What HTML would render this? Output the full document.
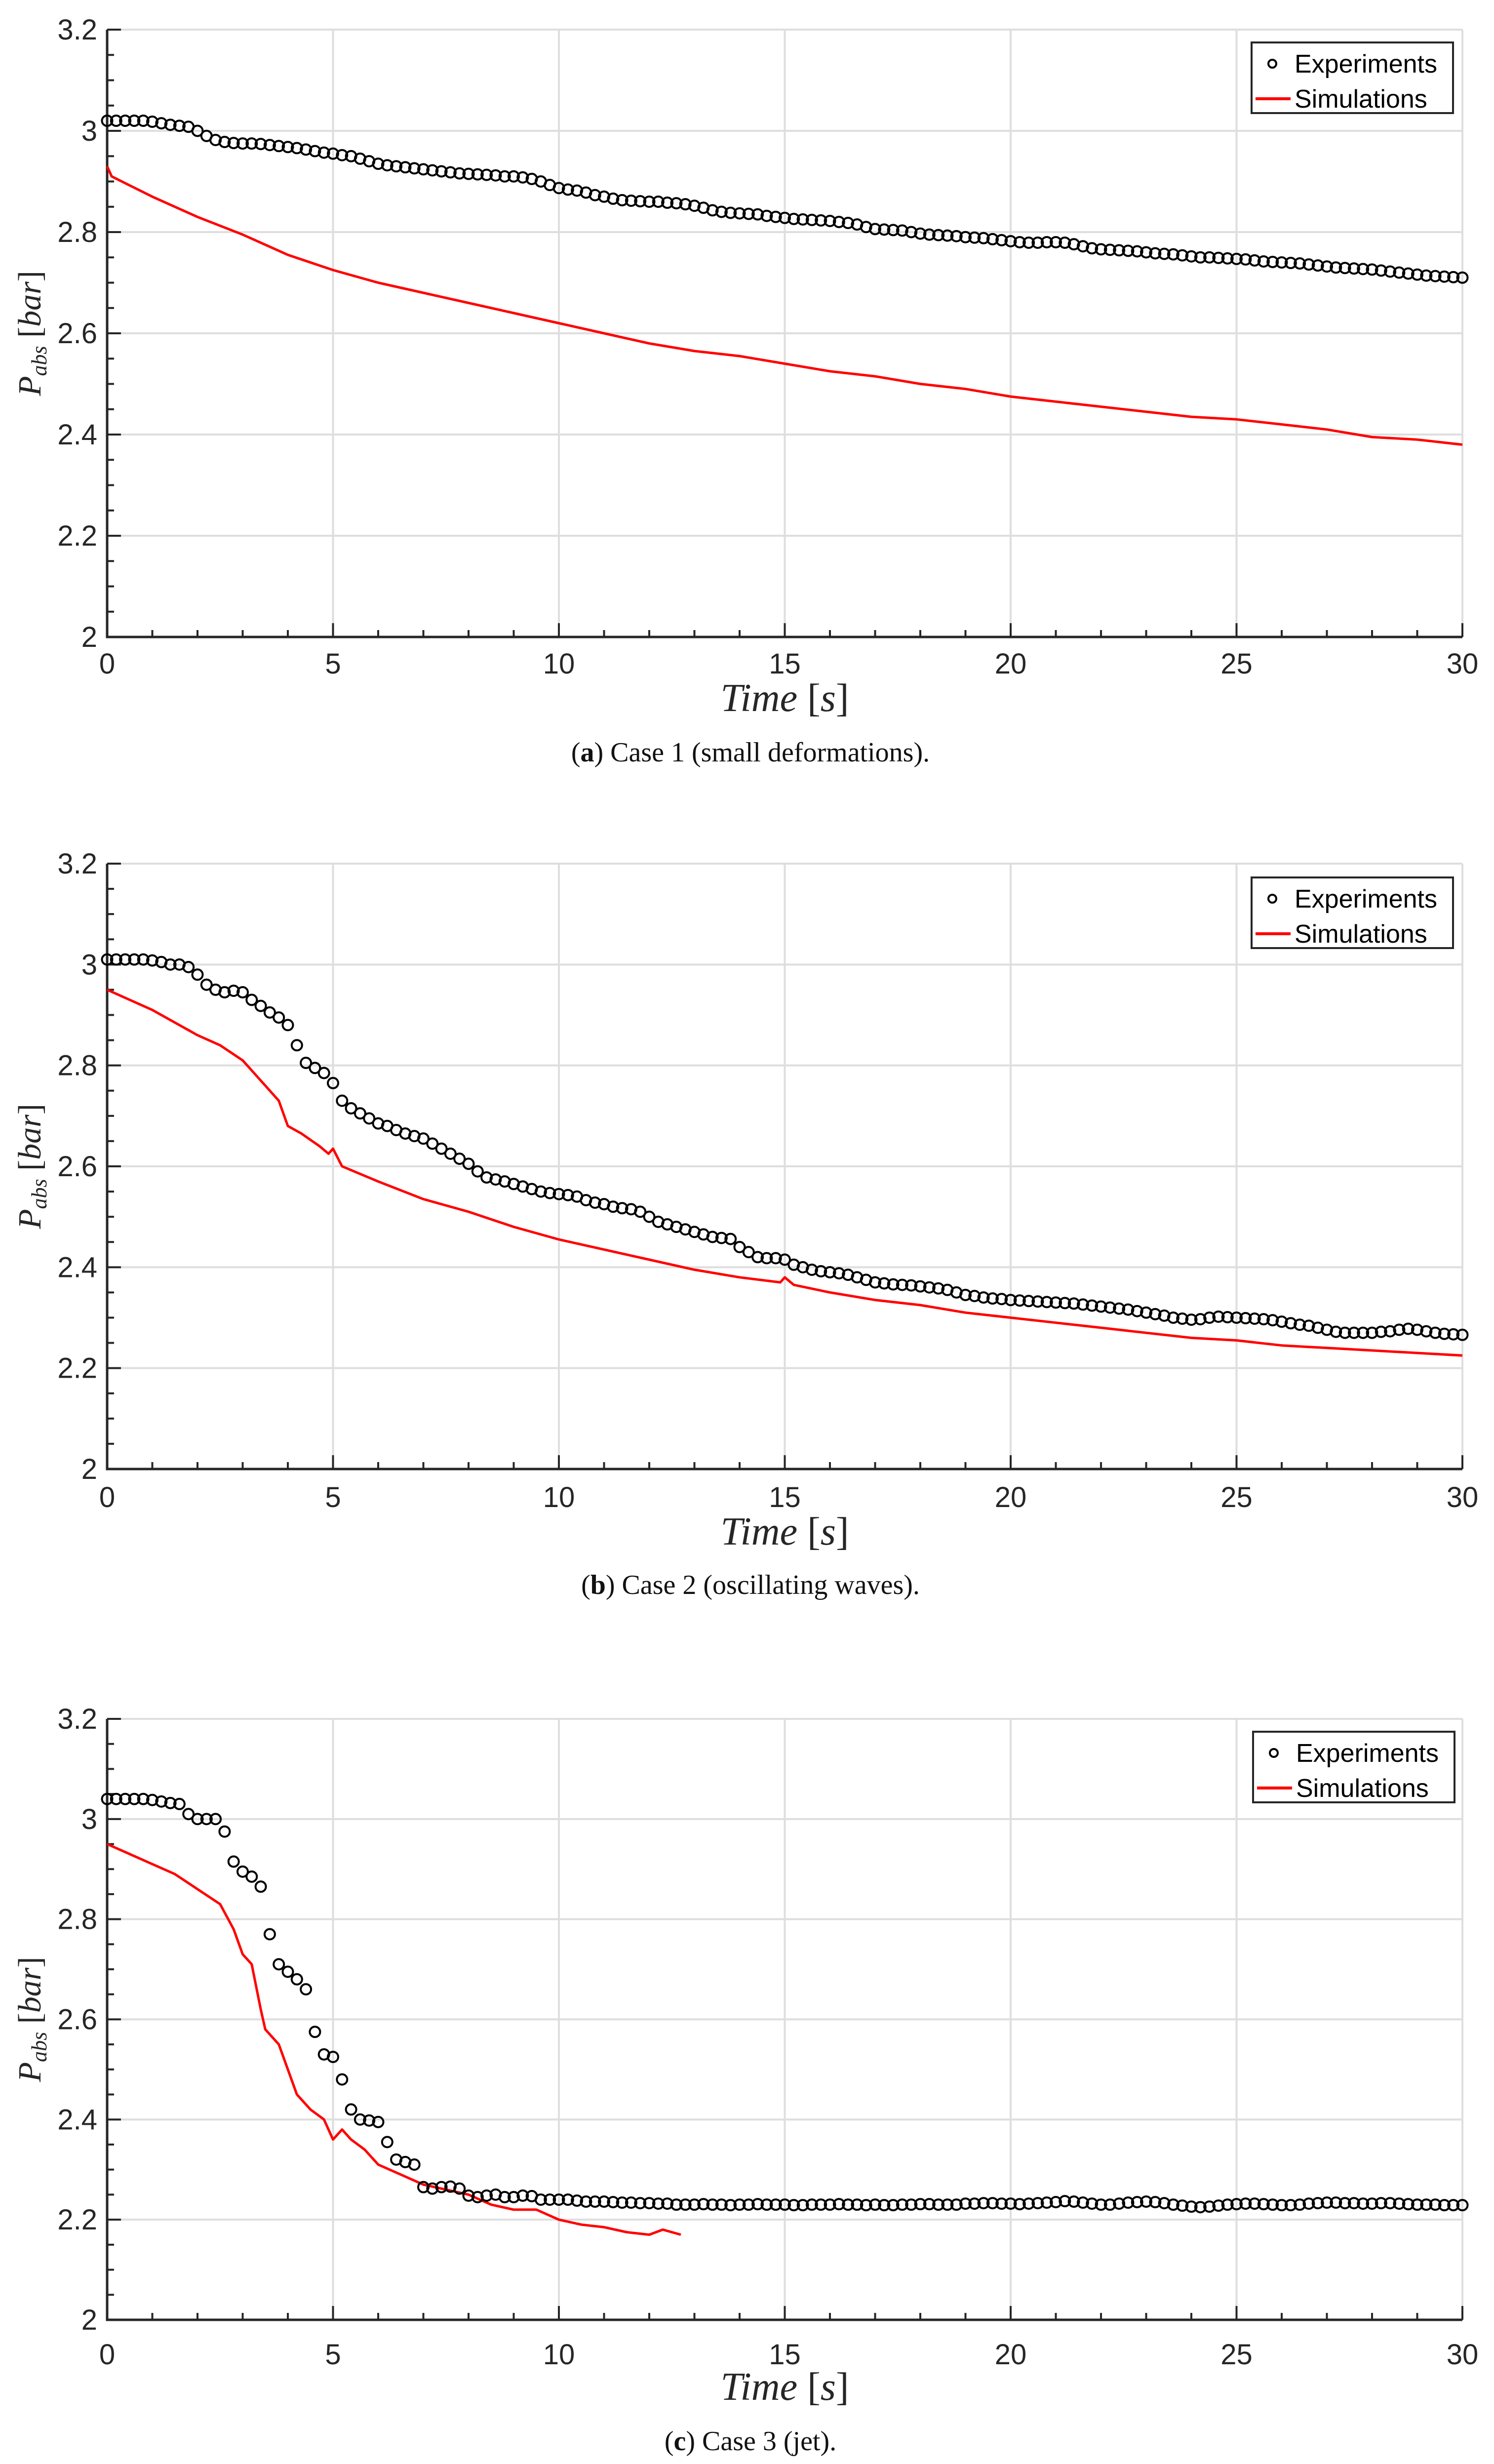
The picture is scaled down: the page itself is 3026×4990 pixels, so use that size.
<!DOCTYPE html>
<html><head><meta charset="utf-8"><style>
html,body{margin:0;padding:0;background:#fff;}
svg{display:block;}
</style></head><body>
<svg id="fig" width="3026" height="4990" viewBox="0 0 3026 4990" xmlns="http://www.w3.org/2000/svg"></svg>
<script>
const xTicks=[0,5,10,15,20,25,30];
const yTicks=[2,2.2,2.4,2.6,2.8,3,3.2];
const yTickLabels=["2","2.2","2.4","2.6","2.8","3","3.2"];
const expStep=0.2;
const exp1=[3.02,3.02,3.02,3.02,3.02,3.018,3.015,3.012,3.01,
3.008,3.0,2.99,2.982,2.978,2.976,
2.975,2.975,2.974,2.972,2.97,2.968,2.966,2.963,2.96,2.957,
2.955,2.952,2.95,2.945,2.94,2.935,2.932,2.93,2.928,2.926,
2.924,2.922,2.92,2.918,2.916,2.915,2.914,2.913,2.912,2.91,
2.91,2.908,2.905,2.9,2.893,2.887,2.884,2.882,2.878,2.873,
2.87,2.866,2.863,2.862,2.861,2.86,2.86,2.858,2.857,2.855,
2.852,2.848,2.843,2.84,2.838,2.837,2.836,2.835,2.832,2.83,
2.828,2.826,2.825,2.824,2.823,2.822,2.82,2.818,2.815,2.81,
2.806,2.805,2.804,2.803,2.8,2.797,2.795,2.794,2.793,2.792,
2.79,2.789,2.788,2.786,2.784,2.782,2.78,2.779,2.779,2.78,
2.78,2.779,2.776,2.772,2.768,2.766,2.765,2.764,2.763,2.762,
2.76,2.758,2.757,2.756,2.754,2.752,2.75,2.75,2.749,2.748,
2.747,2.746,2.744,2.742,2.741,2.74,2.739,2.738,2.736,2.734,
2.732,2.73,2.729,2.728,2.727,2.726,2.724,2.722,2.72,2.718,
2.716,2.714,2.713,2.712,2.711,2.71];
const sim1T=[0,0.1,1,2,3,4,5,6,7,8,9,10,11,12,13,14,15,16,17,18,19,20,21,22,23,24,25,26,27,28,29,30];
const sim1=[2.93,2.91,2.87,2.83,2.795,2.755,2.725,2.70,2.68,2.66,2.64,2.62,2.60,2.58,2.565,2.555,2.54,2.525,2.515,2.50,2.49,2.475,2.465,2.455,2.445,2.435,2.43,2.42,2.41,2.395,2.39,2.38];
const exp2=[3.01,3.01,3.01,3.01,3.01,3.008,3.005,3.0,3.0,
2.995,2.98,2.96,2.95,2.945,2.948,
2.945,2.93,2.918,2.905,2.895,2.88,2.84,2.805,2.795,2.785,
2.765,2.73,2.715,2.705,2.695,2.685,2.68,2.672,2.665,2.66,
2.655,2.645,2.635,2.625,2.615,2.605,2.59,2.578,2.574,2.57,
2.565,2.56,2.555,2.55,2.547,2.545,2.543,2.54,2.533,2.528,
2.525,2.52,2.517,2.515,2.51,2.5,2.49,2.485,2.48,2.475,
2.47,2.465,2.46,2.458,2.456,2.44,2.43,2.42,2.418,2.418,
2.415,2.405,2.4,2.395,2.392,2.39,2.388,2.385,2.38,2.375,
2.37,2.368,2.366,2.365,2.364,2.362,2.36,2.358,2.355,2.35,
2.345,2.343,2.34,2.338,2.337,2.335,2.334,2.333,2.332,2.331,
2.33,2.329,2.328,2.326,2.324,2.322,2.32,2.318,2.316,2.313,
2.31,2.307,2.304,2.3,2.298,2.296,2.297,2.3,2.302,2.301,
2.3,2.299,2.298,2.297,2.295,2.292,2.289,2.286,2.284,2.28,
2.276,2.272,2.27,2.27,2.27,2.27,2.272,2.273,2.276,2.278,
2.276,2.273,2.27,2.268,2.267,2.266];
const sim2T=[0,1,2,2.5,3,3.5,3.8,4,4.3,4.7,4.9,5,5.2,6,7,8,9,10,11,12,13,14,14.9,15,15.2,16,17,18,19,20,21,22,23,24,25,26,27,28,29,30];
const sim2=[2.95,2.91,2.86,2.84,2.81,2.76,2.73,2.68,2.665,2.64,2.625,2.635,2.60,2.57,2.535,2.51,2.48,2.455,2.435,2.415,2.395,2.38,2.37,2.38,2.365,2.35,2.335,2.325,2.31,2.30,2.29,2.28,2.27,2.26,2.255,2.245,2.24,2.235,2.23,2.225];
const exp3=[3.04,3.04,3.04,3.04,3.04,3.038,3.035,3.032,3.03,
3.01,3.0,3.0,3.0,2.975,2.915,
2.895,2.885,2.865,2.77,2.71,2.695,2.68,2.66,2.575,2.53,
2.525,2.48,2.42,2.40,2.398,2.395,2.355,2.32,2.315,2.31,
2.265,2.262,2.265,2.266,2.262,2.248,2.245,2.248,2.25,2.245,
2.245,2.248,2.247,2.24,2.24,2.24,2.24,2.238,2.236,2.236,
2.236,2.235,2.234,2.234,2.233,2.233,2.232,2.232,2.23,2.23,
2.23,2.231,2.23,2.23,2.229,2.23,2.23,2.231,2.23,2.23,
2.23,2.229,2.229,2.23,2.23,2.23,2.231,2.23,2.23,2.229,
2.23,2.229,2.229,2.23,2.23,2.231,2.231,2.23,2.23,2.23,
2.232,2.232,2.233,2.233,2.232,2.232,2.231,2.232,2.233,2.234,
2.235,2.237,2.236,2.234,2.232,2.23,2.23,2.232,2.234,2.235,
2.236,2.235,2.233,2.23,2.228,2.226,2.225,2.226,2.228,2.23,
2.231,2.232,2.232,2.231,2.23,2.229,2.229,2.23,2.232,2.233,
2.234,2.234,2.233,2.233,2.232,2.232,2.233,2.233,2.232,2.231,
2.23,2.23,2.23,2.229,2.229,2.229];
const sim3T=[0,0.5,1,1.5,2,2.5,2.8,3,3.2,3.4,3.5,3.8,4,4.2,4.5,4.8,5,5.2,5.4,5.7,6,6.5,7,7.5,8,8.5,9,9.5,10,10.5,11,11.5,12,12.3,12.7];
const sim3=[2.95,2.93,2.91,2.89,2.86,2.83,2.78,2.73,2.71,2.62,2.58,2.55,2.50,2.45,2.42,2.40,2.36,2.38,2.36,2.34,2.31,2.29,2.27,2.26,2.25,2.23,2.22,2.22,2.20,2.19,2.185,2.175,2.17,2.18,2.17];

const NS="http://www.w3.org/2000/svg";
const svg=document.getElementById('fig');
function mk(tag,attrs,parent){const e=document.createElementNS(NS,tag);for(const k in attrs)e.setAttribute(k,attrs[k]);(parent||svg).appendChild(e);return e;}
const L=217,R=2962;
const charts=[
 {top:60,bot:1290,exp:exp1,simT:sim1T,sim:sim1,leg:[2535,86,408,143],tick:1344,title:1465,cap:1556,tag:"a",capText:" Case 1 (small deformations)."},
 {top:1749,bot:2975,exp:exp2,simT:sim2T,sim:sim2,leg:[2535,1777,408,143],tick:3032,title:3153,cap:3242,tag:"b",capText:" Case 2 (oscillating waves)."},
 {top:3481,bot:4698,exp:exp3,simT:sim3T,sim:sim3,leg:[2538,3507,408,143],tick:4768,title:4885,cap:4976,tag:"c",capText:" Case 3 (jet)."}
];
charts.forEach((c,ci)=>{
 const g=mk('g',{});
 
 
 const xs=t=>L+(t-0)/(30-0)*(R-L);
 const ys=v=>c.bot-(v-2)/(3.2-2)*(c.bot-c.top);
 xTicks.forEach(t=>{if(t===0)return;const l=mk('line',{x1:xs(t),x2:xs(t),y1:c.top,y2:c.bot,stroke:'#dedede','stroke-width':4},g);
  });
 yTicks.forEach(v=>{if(v===2)return;const l=mk('line',{x1:L,x2:R,y1:ys(v),y2:ys(v),stroke:'#dedede','stroke-width':4},g);
  });
 const ax=mk('path',{d:`M${L},${c.top} L${L},${c.bot} L${R},${c.bot}`,fill:'none',stroke:'#262626','stroke-width':5},g);
 
 for(let t=0;t<=30;t++){const len=(t%5===0)?28:14;mk('line',{x1:xs(t),x2:xs(t),y1:c.bot,y2:c.bot-len,stroke:'#262626','stroke-width':4},g);}
 for(let k=0;k<=24;k++){const v=2+k*0.05;const len=(k%4===0)?28:14;mk('line',{x1:L,x2:L+len,y1:ys(v),y2:ys(v),stroke:'#262626','stroke-width':4},g);}
 xTicks.forEach(t=>{const tx=mk('text',{x:xs(t),y:c.tick+20,'text-anchor':'middle','font-family':'Liberation Sans, sans-serif','font-size':58,fill:'#262626'},g);tx.textContent=t;
  });
 yTicks.forEach((v,i)=>{const tx=mk('text',{x:L-20,y:ys(v)+20,'text-anchor':'end','font-family':'Liberation Sans, sans-serif','font-size':58,fill:'#262626'},g);tx.textContent=yTickLabels[i];
  });
 const xt=mk('text',{x:(L+R)/2,y:c.title-25,'text-anchor':'middle','font-family':'Liberation Serif, serif','font-size':80,fill:'#262626'},g);
 xt.innerHTML='<tspan font-style="italic">Time</tspan> [<tspan font-style="italic">s</tspan>]';
 
 const cy=(c.top+c.bot)/2;
 const yt=mk('text',{x:0,y:0,transform:`translate(82,${cy}) rotate(-90)`,'text-anchor':'middle','font-family':'Liberation Serif, serif','font-size':66,fill:'#262626'},g);
 yt.innerHTML='<tspan font-style="italic">P</tspan><tspan font-style="italic" font-size="44" dy="12">abs</tspan><tspan dy="-12"> [</tspan><tspan font-style="italic">bar</tspan>]';
 
 const d=c.simT.map((t,i)=>(i?'L':'M')+xs(t).toFixed(1)+','+ys(c.sim[i]).toFixed(1)).join(' ');
 const sl=mk('path',{d:d,fill:'none',stroke:'#ff0000','stroke-width':5,'stroke-linejoin':'round'},g);
 
 c.exp.forEach((v,i)=>{const m=mk('circle',{cx:xs(i*expStep),cy:ys(v),r:10.5,fill:'none',stroke:'#000','stroke-width':4},g);
  });
 const [lx,ly,lw,lh]=c.leg;
 const lg=mk('g',{},g);
 
 mk('rect',{x:lx,y:ly,width:lw,height:lh,fill:'#fff',stroke:'#262626','stroke-width':4},lg);
 mk('circle',{cx:lx+42,cy:ly+43,r:8,fill:'none',stroke:'#000','stroke-width':4},lg);
 const e1=mk('text',{x:lx+87,y:ly+61,'font-family':'Liberation Sans, sans-serif','font-size':52,fill:'#000'},lg);e1.textContent='Experiments';
 
 mk('line',{x1:lx+8,x2:lx+79,y1:ly+114,y2:ly+114,stroke:'#ff0000','stroke-width':6},lg);
 const e2=mk('text',{x:lx+87,y:ly+132,'font-family':'Liberation Sans, sans-serif','font-size':52,fill:'#000'},lg);e2.textContent='Simulations';
 
 const cp=mk('text',{x:1520,y:c.cap-14,'text-anchor':'middle','font-family':'Liberation Serif, serif','font-size':56,fill:'#111'},g);
 cp.innerHTML='(<tspan font-weight="bold">'+c.tag+'</tspan>)'+c.capText;
 
});
</script>
</body></html>
